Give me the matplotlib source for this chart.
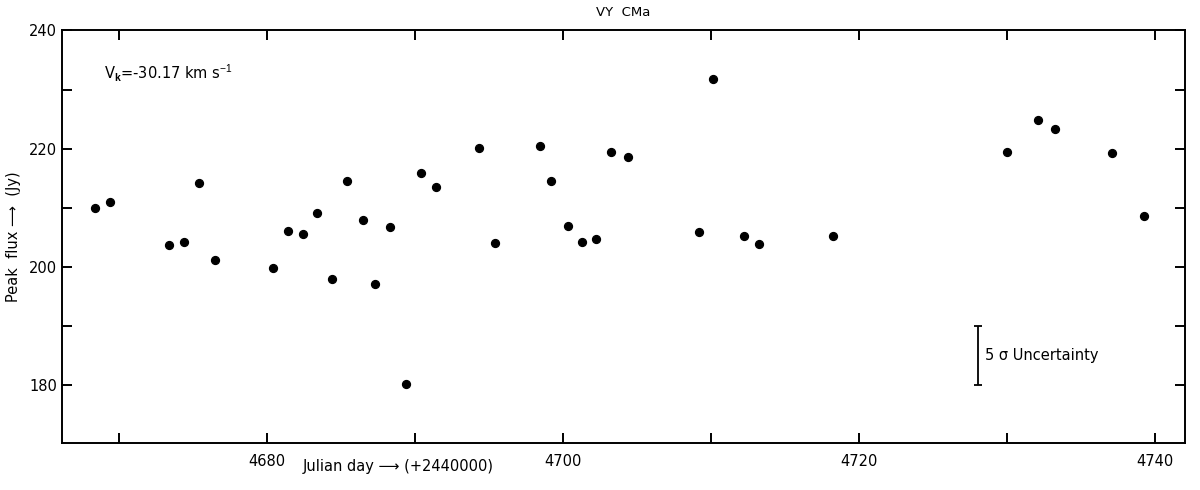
import numpy as np
import matplotlib
matplotlib.use('Agg')
import matplotlib.pyplot as plt

plt.rcParams['font.family'] = ['Liberation Sans Narrow', 'DejaVu Sans']
plt.rcParams['mathtext.fontset'] = 'custom'
plt.rcParams['mathtext.rm'] = 'Liberation Sans'
plt.rcParams['mathtext.bf'] = 'Liberation Sans:bold'

# Julian day (+2440000) and peak flux (Jy)
julian_day = [4668.4, 4669.4, 4673.4, 4674.4, 4675.4, 4676.5, 4680.4, 4681.4,
              4682.4, 4683.4, 4684.4, 4685.4, 4686.5, 4687.3, 4688.3, 4689.4,
              4690.4, 4691.4, 4694.3, 4695.4, 4698.4, 4699.2, 4700.3, 4701.3,
              4702.2, 4703.2, 4704.4, 4709.2, 4710.1, 4712.2, 4713.2, 4718.2,
              4730.0, 4732.1, 4733.2, 4737.1, 4739.2]
peak_flux = [210.0, 211.0, 203.8, 204.3, 214.2, 201.1, 199.9, 206.0,
             205.5, 209.2, 197.9, 214.6, 208.0, 197.1, 206.8, 180.2,
             215.9, 213.5, 220.1, 204.1, 220.5, 214.5, 207.0, 204.2,
             204.8, 219.4, 218.6, 205.9, 231.7, 205.3, 203.9, 205.3,
             219.4, 224.9, 223.3, 219.2, 208.6]

x_ticks = np.arange(4670, 4741, 10)
x_labels = ['', '4680', '', '4700', '', '4720', '', '4740']
y_ticks = np.arange(180, 241, 10)
y_labels = ['180', '', '200', '', '220', '', '240']

# 5 sigma uncertainty bar
err_x = 4728
err_y = 185
err_half = 5

fig = plt.figure(figsize=(12, 4.9), dpi=100)
ax = fig.add_axes([0.0517, 0.096, 0.9358, 0.842])

ax.scatter(julian_day, peak_flux, s=32, color='black', zorder=3)

ax.errorbar(err_x, err_y, yerr=err_half, color='black', capsize=3,
            elinewidth=1.3, capthick=1.3)
ax.text(err_x + 0.5, err_y, '5 σ Uncertainty', fontsize=10.5, va='center', ha='left')

ax.set_xlim(4666.15, 4742.0)
ax.set_ylim(170.25, 240)
ax.set_xticks(x_ticks)
ax.set_xticklabels(x_labels)
ax.set_yticks(y_ticks)
ax.set_yticklabels(y_labels)
ax.tick_params(direction='in', length=7, width=1.4, labelsize=10.5,
               top=True, right=True)
ax.tick_params(axis='x', pad=8)
for sp in ax.spines.values():
    sp.set_linewidth(1.4)

ax.set_title('VY  CMa', fontsize=9.5, pad=10)
ax.set_ylabel('Peak  flux ⟶  (Jy)', fontsize=10.5, labelpad=6)
ax.text(0.299, -0.058, 'Julian day ⟶ (+2440000)', transform=ax.transAxes,
        fontsize=10.5, ha='center', va='center')
ax.text(4669.0, 232.8, r'V$_\mathbf{k}$=-30.17 km s$^{-1}$', fontsize=10.5,
        ha='left', va='center')

fig.savefig('out.png', dpi=100)
